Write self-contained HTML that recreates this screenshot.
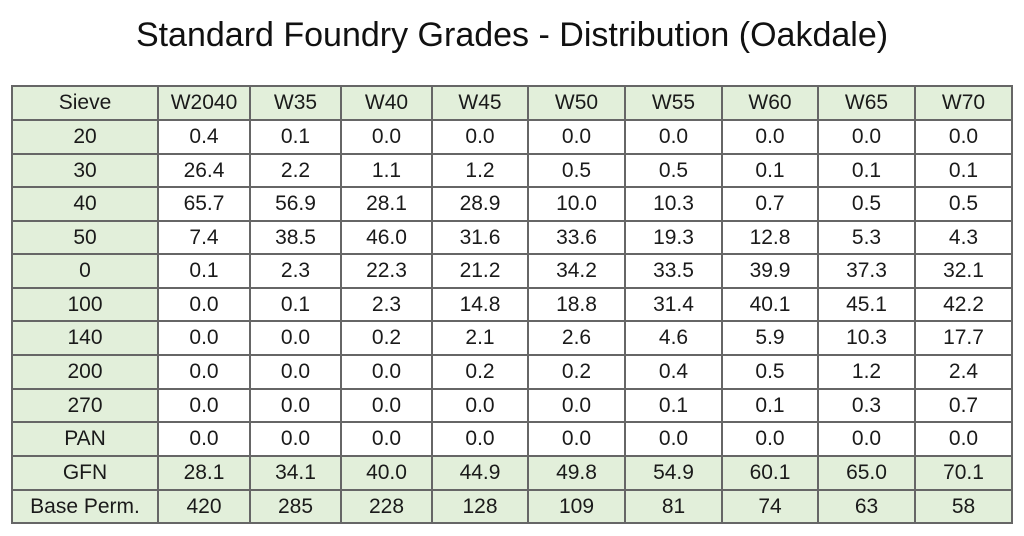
<!DOCTYPE html>
<html>
<head>
<meta charset="utf-8">
<style>
  html, body { margin:0; padding:0; background:#ffffff; }
  body { width:1024px; height:536px; position:relative; overflow:hidden;
         font-family:"Liberation Sans", sans-serif; color:#1a1a1a; }
  .title { position:absolute; left:0; top:18px; width:1024px; text-align:center;
           font-size:34px; line-height:34px; color:#111; white-space:nowrap; }
  .grid { position:absolute; left:12px; top:86px; width:1000px; height:437px;
          display:grid;
          grid-template-columns:146px 92px 91px 91px 96px 97px 97px 96px 97px 97px;
          grid-template-rows:34px 34px 33px 34px 33px 34px 33px 34px 34px 33px 34px 34px 33px; }
  .grid div { display:flex; align-items:center; justify-content:center;
              font-size:21px; background:#fff; white-space:nowrap; }
  .grid div.g { background:#e2efda; }
  .v { position:absolute; top:85px; width:2px; height:439px; background:#666; }
  .h { position:absolute; left:11px; width:1002px; height:2px; background:#666; }
</style>
</head>
<body>
<div class="title">Standard Foundry Grades - Distribution (Oakdale)</div>

<div class="grid">
  <div class="g">Sieve</div><div class="g">W2040</div><div class="g">W35</div><div class="g">W40</div><div class="g">W45</div><div class="g">W50</div><div class="g">W55</div><div class="g">W60</div><div class="g">W65</div><div class="g">W70</div>

  <div class="g">20</div><div>0.4</div><div>0.1</div><div>0.0</div><div>0.0</div><div>0.0</div><div>0.0</div><div>0.0</div><div>0.0</div><div>0.0</div>

  <div class="g">30</div><div>26.4</div><div>2.2</div><div>1.1</div><div>1.2</div><div>0.5</div><div>0.5</div><div>0.1</div><div>0.1</div><div>0.1</div>

  <div class="g">40</div><div>65.7</div><div>56.9</div><div>28.1</div><div>28.9</div><div>10.0</div><div>10.3</div><div>0.7</div><div>0.5</div><div>0.5</div>

  <div class="g">50</div><div>7.4</div><div>38.5</div><div>46.0</div><div>31.6</div><div>33.6</div><div>19.3</div><div>12.8</div><div>5.3</div><div>4.3</div>

  <div class="g">0</div><div>0.1</div><div>2.3</div><div>22.3</div><div>21.2</div><div>34.2</div><div>33.5</div><div>39.9</div><div>37.3</div><div>32.1</div>

  <div class="g">100</div><div>0.0</div><div>0.1</div><div>2.3</div><div>14.8</div><div>18.8</div><div>31.4</div><div>40.1</div><div>45.1</div><div>42.2</div>

  <div class="g">140</div><div>0.0</div><div>0.0</div><div>0.2</div><div>2.1</div><div>2.6</div><div>4.6</div><div>5.9</div><div>10.3</div><div>17.7</div>

  <div class="g">200</div><div>0.0</div><div>0.0</div><div>0.0</div><div>0.2</div><div>0.2</div><div>0.4</div><div>0.5</div><div>1.2</div><div>2.4</div>

  <div class="g">270</div><div>0.0</div><div>0.0</div><div>0.0</div><div>0.0</div><div>0.0</div><div>0.1</div><div>0.1</div><div>0.3</div><div>0.7</div>

  <div class="g">PAN</div><div>0.0</div><div>0.0</div><div>0.0</div><div>0.0</div><div>0.0</div><div>0.0</div><div>0.0</div><div>0.0</div><div>0.0</div>

  <div class="g">GFN</div><div class="g">28.1</div><div class="g">34.1</div><div class="g">40.0</div><div class="g">44.9</div><div class="g">49.8</div><div class="g">54.9</div><div class="g">60.1</div><div class="g">65.0</div><div class="g">70.1</div>

  <div class="g">Base Perm.</div><div class="g">420</div><div class="g">285</div><div class="g">228</div><div class="g">128</div><div class="g">109</div><div class="g">81</div><div class="g">74</div><div class="g">63</div><div class="g">58</div>
</div>

<!-- vertical lines -->
<div class="v" style="left:11px"></div>
<div class="v" style="left:157px"></div>
<div class="v" style="left:249px"></div>
<div class="v" style="left:340px"></div>
<div class="v" style="left:431px"></div>
<div class="v" style="left:527px"></div>
<div class="v" style="left:624px"></div>
<div class="v" style="left:721px"></div>
<div class="v" style="left:817px"></div>
<div class="v" style="left:914px"></div>
<div class="v" style="left:1011px"></div>

<!-- horizontal lines -->
<div class="h" style="top:85px"></div>
<div class="h" style="top:119px"></div>
<div class="h" style="top:153px"></div>
<div class="h" style="top:186px"></div>
<div class="h" style="top:220px"></div>
<div class="h" style="top:253px"></div>
<div class="h" style="top:287px"></div>
<div class="h" style="top:320px"></div>
<div class="h" style="top:354px"></div>
<div class="h" style="top:388px"></div>
<div class="h" style="top:421px"></div>
<div class="h" style="top:455px"></div>
<div class="h" style="top:489px"></div>
<div class="h" style="top:522px"></div>
</body>
</html>
